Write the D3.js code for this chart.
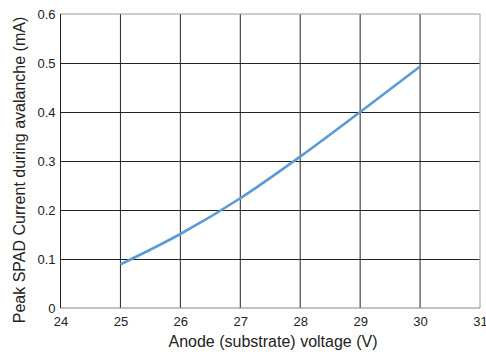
<!DOCTYPE html>
<meta charset="utf-8">
<style>
body { margin: 0; background: #fff; }
text { font-family: "Liberation Sans", Arial, sans-serif; fill: #222; }
</style>
<body>
<script src="https://cdn.jsdelivr.net/npm/d3@7"></script>
<script>
// data
var voltage = [25, 26, 27, 28, 29, 30];
var current = [0.089, 0.151, 0.224, 0.309, 0.400, 0.493];
var xTicks = [24, 25, 26, 27, 28, 29, 30, 31];
var yTicks = [0, 0.1, 0.2, 0.3, 0.4, 0.5, 0.6];

var width = 486, height = 354;
var svg = d3.select("body").append("svg")
    .attr("width", width)
    .attr("height", height);

var x = d3.scaleLinear().domain([24, 31]).range([60.5, 480]);
var y = d3.scaleLinear().domain([0, 0.6]).range([308, 14]);

// grid
svg.append("g").selectAll("line").data(xTicks.slice(1, -1)).enter().append("line")
    .attr("x1", function(d) { return x(d); }).attr("x2", function(d) { return x(d); })
    .attr("y1", y(0)).attr("y2", y(0.6))
    .attr("stroke", "#222").attr("stroke-width", 1);
svg.append("g").selectAll("line").data(yTicks.slice(1, -1)).enter().append("line")
    .attr("x1", x(24)).attr("x2", x(31))
    .attr("y1", function(d) { return Math.round(y(d)) + 0.5; })
    .attr("y2", function(d) { return Math.round(y(d)) + 0.5; })
    .attr("stroke", "#222").attr("stroke-width", 1);

// frame
svg.append("line").attr("x1", x(24)).attr("x2", x(31)).attr("y1", y(0.6)).attr("y2", y(0.6))
    .attr("stroke", "#999").attr("stroke-width", 1.2);
svg.append("line").attr("x1", x(31)).attr("x2", x(31)).attr("y1", y(0)).attr("y2", y(0.6))
    .attr("stroke", "#aaa").attr("stroke-width", 1.2);
svg.append("line").attr("x1", x(24)).attr("x2", x(31)).attr("y1", y(0)).attr("y2", y(0))
    .attr("stroke", "#888").attr("stroke-width", 1.2);
svg.append("line").attr("x1", x(24)).attr("x2", x(24)).attr("y1", y(0)).attr("y2", y(0.6))
    .attr("stroke", "#222").attr("stroke-width", 1);

// axes (labels only)
var xAxis = d3.axisBottom(x).tickValues(xTicks).tickSize(0).tickPadding(9).tickFormat(d3.format("d"));
var gx = svg.append("g").attr("transform", "translate(0," + y(0) + ")").call(xAxis);
gx.select(".domain").remove();
gx.selectAll("text").style("font-size", "13px").attr("fill", "#222");

var yAxis = d3.axisLeft(y).tickValues(yTicks).tickSize(0).tickPadding(5)
    .tickFormat(function(d) { return d === 0 ? "0" : d3.format(".1f")(d); });
var gy = svg.append("g").attr("transform", "translate(" + x(24) + ",0)").call(yAxis);
gy.select(".domain").remove();
gy.selectAll("text").style("font-size", "13px").attr("fill", "#222");

// series
var pts = voltage.map(function(v, i) { return [v, current[i]]; });
svg.append("path")
    .datum(pts)
    .attr("fill", "none")
    .attr("stroke", "#5b9bd5")
    .attr("stroke-width", 2.6)
    .attr("d", d3.line().curve(d3.curveMonotoneX)
        .x(function(d) { return x(d[0]); })
        .y(function(d) { return y(d[1]); }));

// titles
svg.append("text")
    .attr("x", 273).attr("y", 347)
    .attr("text-anchor", "middle")
    .style("font-size", "16px")
    .text("Anode (substrate) voltage (V)");

svg.append("text")
    .attr("transform", "translate(25,170) rotate(-90)")
    .attr("text-anchor", "middle")
    .style("font-size", "16px")
    .text("Peak SPAD Current during avalanche (mA)");
</script>
</body>
